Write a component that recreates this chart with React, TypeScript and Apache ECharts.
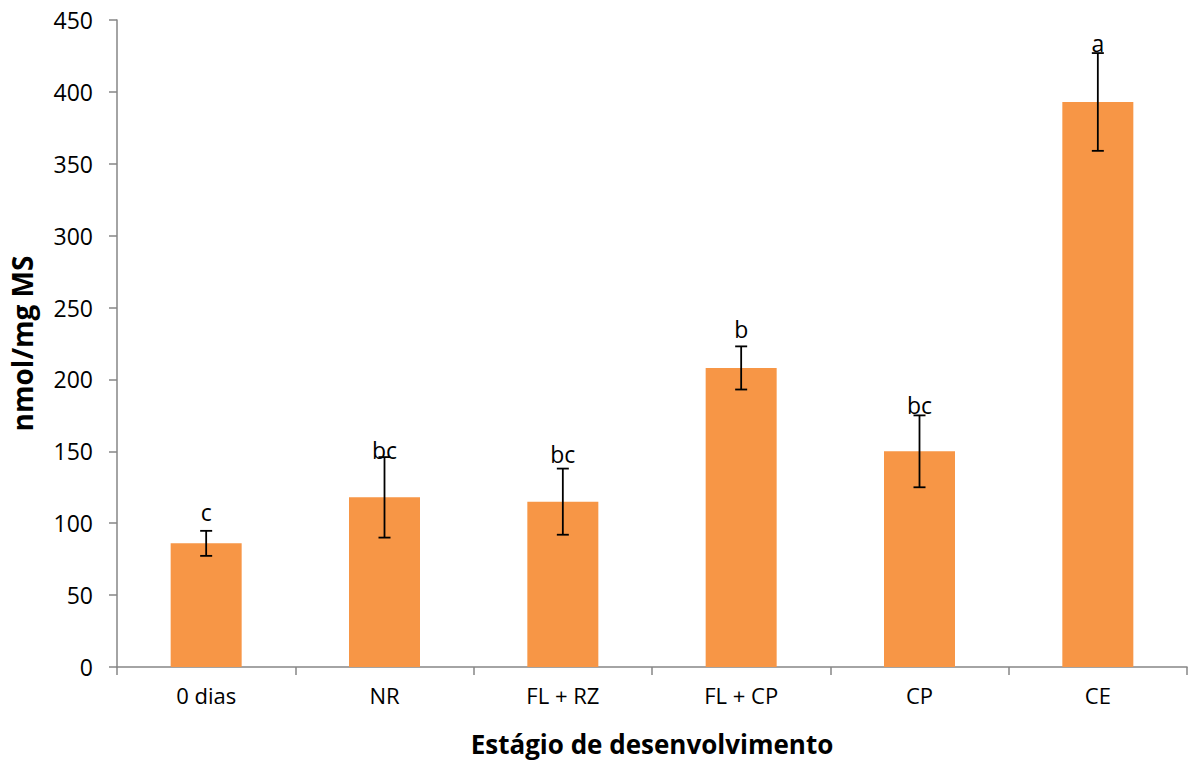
import React, { useEffect, useRef } from "react";
import * as echarts from "echarts";

const categories = ["0 dias", "NR", "FL + RZ", "FL + CP", "CP", "CE"];
const means = [86, 118, 115, 208, 150, 393];
const errors = [8.7, 28, 23, 15, 25, 34];
const letters = ["c", "bc", "bc", "b", "bc", "a"];
const letterLevels = [108, 151, 148, 235, 182, 434];
const yTicks = { min: 0, max: 450, interval: 50 };

const FONT = "'Open Sans', 'Noto Sans', sans-serif";

export default function App() {
  const ref = useRef<HTMLDivElement>(null);
  useEffect(() => {
    document.body.style.margin = "0";
    const chart = echarts.init(ref.current!, null, { renderer: "svg" });
    const errData = categories.map((c, i) => [i, means[i] - errors[i], means[i] + errors[i]]);
    const letterData = categories.map((c, i) => [i, letterLevels[i], letters[i]]);
    chart.setOption({
      animation: false,
      backgroundColor: "#ffffff",
      grid: { left: 117, right: 1, top: 20, bottom: 94 },
      xAxis: {
        type: "category",
        data: categories,
        boundaryGap: true,
        axisLine: { lineStyle: { color: "#868686", width: 1.5 } },
        axisTick: { show: true, inside: false, length: 8, alignWithLabel: false, lineStyle: { color: "#868686", width: 1.5 } },
        axisLabel: { color: "#000", fontFamily: FONT, fontSize: 22, margin: 17 },
        name: "Estágio de desenvolvimento",
        nameLocation: "middle",
        nameGap: 64,
        nameTextStyle: { color: "#000", fontFamily: FONT, fontSize: 26, fontWeight: "bold" },
      },
      yAxis: {
        type: "value",
        min: yTicks.min,
        max: yTicks.max,
        interval: yTicks.interval,
        splitLine: { show: false },
        axisLine: { show: true, lineStyle: { color: "#868686", width: 1.5 } },
        axisTick: { show: true, inside: false, length: 8, lineStyle: { color: "#868686", width: 1.5 } },
        axisLabel: { color: "#000", fontFamily: FONT, fontSize: 23, margin: 24 },
        name: "nmol/mg MS",
        nameLocation: "middle",
        nameGap: 81,
        nameTextStyle: { color: "#000", fontFamily: FONT, fontSize: 28, fontWeight: "bold" },
      },
      series: [
        {
          type: "bar",
          data: means,
          barWidth: 71,
          itemStyle: { color: "#F79646" },
        },
        {
          type: "custom",
          data: errData,
          z: 10,
          renderItem: (params: any, api: any) => {
            const x = api.coord([api.value(0), api.value(1)])[0];
            const lo = api.coord([api.value(0), api.value(1)])[1];
            const hi = api.coord([api.value(0), api.value(2)])[1];
            const cap = 6;
            const style = { stroke: "#000", lineWidth: 1.8 };
            return {
              type: "group",
              children: [
                { type: "line", shape: { x1: x, y1: lo, x2: x, y2: hi }, style },
                { type: "line", shape: { x1: x - cap, y1: lo, x2: x + cap, y2: lo }, style },
                { type: "line", shape: { x1: x - cap, y1: hi, x2: x + cap, y2: hi }, style },
              ],
            };
          },
        },
        {
          type: "custom",
          data: letterData,
          z: 11,
          renderItem: (params: any, api: any) => {
            const p = api.coord([api.value(0), api.value(1)]);
            return {
              type: "text",
              x: p[0],
              y: p[1],
              style: {
                text: letters[params.dataIndex],
                fill: "#000",
                font: `23px ${FONT}`,
                align: "center",
                verticalAlign: "middle",
              },
            };
          },
        },
      ],
    });
    return () => chart.dispose();
  }, []);
  return <div ref={ref} style={{ width: 1188, height: 762 }} />;
}
